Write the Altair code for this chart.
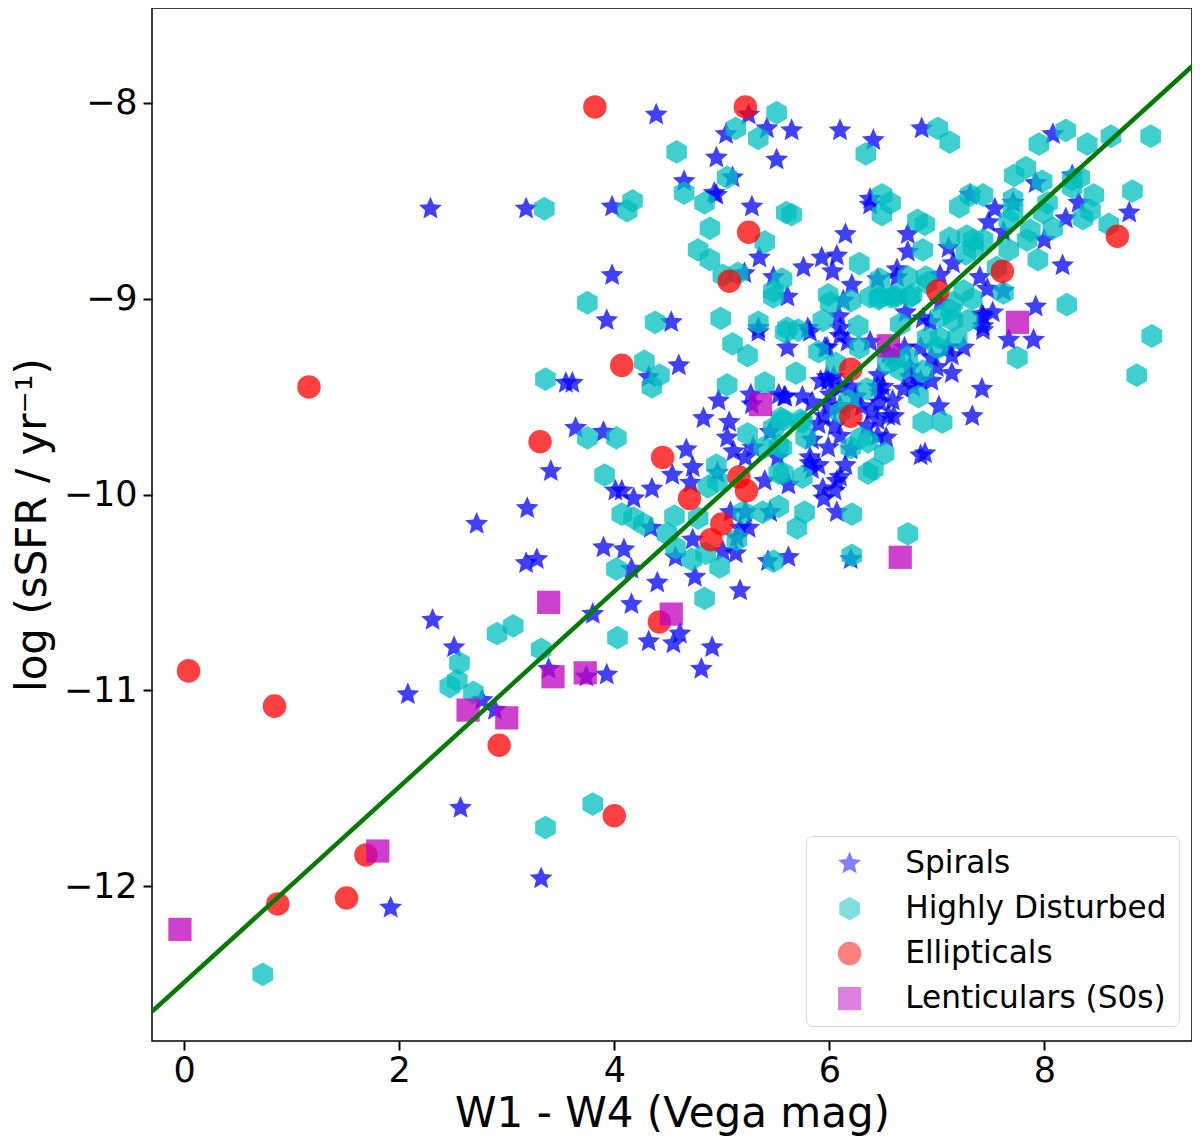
import altair as alt
import pandas as pd

spirals = [
(4.39,-8.06),(5.25,-8.06),(5.04,-8.16),(5.42,-8.13),(5.65,-8.14),(6.10,-8.14),(6.41,-8.19),(4.95,-8.28),(5.51,-8.29),
(4.65,-8.40),(5.10,-8.38),(4.95,-8.47),(4.93,-8.46),(5.28,-8.53),(6.38,-8.49),(6.38,-8.52),(6.15,-8.67),(5.35,-8.79),
(5.21,-8.87),(5.76,-8.84),(5.93,-8.79),(6.07,-8.78),(6.03,-8.86),(5.48,-8.89),(5.61,-8.99),(6.21,-8.93),(6.45,-8.90),
(6.63,-8.85),(6.63,-8.89),(6.13,-9.01),(6.09,-9.09),(4.53,-9.12),(5.34,-9.15),(5.80,-9.15),(6.10,-9.15),(6.86,-8.13),
(8.08,-8.16),(7.92,-8.41),(8.26,-8.37),(7.31,-8.47),(7.71,-8.51),(7.54,-8.54),(7.48,-8.61),(8.32,-8.51),(8.20,-8.59),
(8.79,-8.56),(6.73,-8.67),(6.73,-8.76),(7.11,-8.74),(7.15,-8.82),(7.62,-8.66),(8.00,-8.70),(8.17,-8.83),(7.03,-8.88),
(7.40,-8.89),(7.47,-8.95),(7.62,-8.96),(7.92,-9.04),(7.52,-9.07),(7.43,-9.09),(6.87,-9.10),(6.71,-9.07),(6.94,-9.12),
(7.43,-9.14),(7.03,-9.02),(7.42,-9.08),(7.43,-9.16),(7.67,-9.21),(7.90,-9.21),(5.82,-9.17),(5.61,-9.25),(6.10,-9.19),
(6.17,-9.22),(5.98,-9.25),(6.38,-9.22),(6.85,-9.25),(7.25,-9.25),(7.14,-9.29),(7.14,-9.38),(7.42,-9.46),(7.33,-9.60),
(7.02,-9.55),(6.85,-9.80),(6.89,-9.79),(6.53,-9.71),(6.45,-9.62),(6.40,-9.57),(6.47,-9.53),(6.59,-9.52),(6.69,-9.46),
(6.78,-9.45),(6.46,-9.39),(6.47,-9.48),(5.99,-9.42),(5.92,-9.42),(6.04,-9.40),(5.59,-9.50),(5.84,-9.53),(6.01,-9.49),
(5.90,-9.64),(5.99,-9.76),(5.84,-9.72),(5.82,-9.81),(5.82,-9.84),(6.10,-9.91),(6.20,-9.77),(4.60,-9.34),(4.32,-9.40),
(3.90,-9.68),(4.97,-9.52),(5.27,-9.49),(5.28,-9.54),(5.53,-9.49),(5.58,-9.50),(4.83,-9.61),(5.98,-9.40),(5.96,-9.25),
(5.34,-9.17),(5.07,-9.63),(5.05,-9.71),(5.11,-9.78),(5.22,-9.81),(5.29,-9.76),(5.45,-9.68),(4.67,-9.77),(4.73,-9.86),
(4.54,-9.90),(5.84,-9.87),(5.52,-9.81),(5.40,-9.93),(5.62,-9.95),(5.94,-9.97),(6.07,-9.93),(6.07,-10.09),(4.35,-9.97),
(4.01,-9.98),(4.07,-9.98),(4.18,-10.02),(4.71,-9.94),(4.96,-9.89),(4.34,-10.17),(4.73,-10.23),(5.08,-10.09),(5.22,-10.09),
(5.25,-10.17),(5.17,-10.17),(5.45,-10.09),(5.62,-10.32),(5.43,-10.34),(3.90,-10.27),(4.09,-10.28),(4.16,-10.38),(4.40,-10.45),
(4.75,-10.42),(5.17,-10.49),(4.16,-10.56),(4.57,-10.32),(5.01,-10.29),(5.13,-10.30),(5.14,-10.22),(3.19,-10.07),(2.72,-10.15),
(3.18,-10.35),(3.28,-10.33),(3.80,-10.61),(2.31,-10.64),(2.51,-10.78),(4.32,-10.75),(4.55,-10.76),(4.61,-10.71),(4.91,-10.78),
(4.81,-10.89),(3.39,-10.89),(3.74,-10.93),(3.93,-10.92),(2.08,-11.02),(2.77,-11.05),(2.89,-11.10),(2.29,-8.54),(3.18,-8.54),
(3.98,-8.53),(3.98,-8.88),(3.93,-9.11),(3.55,-9.43),(3.61,-9.43),(3.64,-9.66),(3.41,-9.88),(2.57,-11.60),(3.32,-11.96),
(1.92,-12.11),(6.20,-10.33),
(6.20,-9.45),(6.25,-9.50),(6.30,-9.55),(6.50,-9.45),(6.55,-9.60),(6.60,-9.60),(6.35,-9.65),(6.45,-9.70),(6.60,-9.30),
(6.55,-9.28),(6.70,-9.25),(6.75,-9.35),(6.75,-9.40),(6.85,-9.42),(6.95,-9.30),(6.10,-9.45),(6.10,-9.55),(6.00,-9.55),
(5.95,-9.60),(6.05,-9.65),(6.10,-9.70),(5.75,-9.50),(5.90,-9.85),(5.95,-10.02),(6.05,-9.98),(6.15,-9.85),(6.45,-9.45),
(7.00,-9.35),(7.10,-9.25),(6.95,-9.42),
]

disturbed = [
(5.51,-8.05),(5.13,-8.13),(5.34,-8.18),(4.58,-8.25),(6.34,-8.26),(5.05,-8.38),(4.65,-8.46),(4.84,-8.51),(5.60,-8.56),
(5.65,-8.57),(4.89,-8.64),(5.40,-8.71),(4.78,-8.75),(4.89,-8.80),(5.01,-8.88),(5.15,-8.87),(5.48,-8.96),(5.56,-8.90),
(5.48,-8.99),(6.28,-8.82),(5.99,-8.98),(6.01,-9.02),(6.20,-9.01),(6.46,-9.00),(6.57,-8.99),(6.47,-8.90),(6.49,-8.47),
(6.57,-8.51),(6.49,-8.57),(4.38,-9.12),(4.99,-9.10),(5.34,-9.12),(5.94,-9.11),(6.27,-9.14),(5.61,-9.15),(5.71,-9.16),
(5.59,-9.17),(7.01,-8.13),(7.12,-8.20),(8.20,-8.14),(7.95,-8.21),(8.40,-8.21),(8.62,-8.17),(8.99,-8.17),(7.83,-8.33),
(7.72,-8.37),(7.98,-8.40),(8.82,-8.45),(7.31,-8.47),(7.43,-8.47),(7.21,-8.53),(7.71,-8.49),(7.71,-8.55),(8.26,-8.39),
(8.33,-8.38),(8.26,-8.43),(8.46,-8.47),(8.43,-8.55),(8.36,-8.59),(8.60,-8.62),(8.03,-8.51),(7.99,-8.56),(7.67,-8.60),
(8.08,-8.64),(7.87,-8.65),(7.84,-8.70),(6.82,-8.60),(6.89,-8.62),(7.12,-8.69),(6.87,-8.75),(7.28,-8.68),(7.34,-8.70),
(7.43,-8.70),(7.27,-8.77),(7.34,-8.74),(7.67,-8.75),(7.94,-8.80),(7.56,-8.84),(8.21,-9.03),(6.73,-8.89),(6.90,-8.89),
(7.25,-8.96),(7.33,-9.00),(7.62,-8.97),(6.63,-8.98),(6.75,-8.99),(7.29,-9.11),(7.13,-9.06),(7.15,-9.11),(6.66,-9.13),
(5.90,-9.27),(5.69,-9.38),(6.06,-9.33),(6.28,-9.25),(6.35,-9.46),(6.18,-9.52),(6.61,-9.31),(6.73,-9.30),(6.54,-9.33),
(6.66,-9.36),(6.87,-9.37),(6.83,-9.50),(6.87,-9.63),(7.05,-9.63),(7.75,-9.30),(7.03,-9.09),(6.91,-9.20),(7.03,-9.20),
(7.19,-9.20),(7.01,-9.25),(7.15,-9.02),(5.78,-9.71),(5.73,-9.62),(5.57,-9.62),(5.56,-9.76),(6.20,-9.76),(6.29,-9.71),
(6.36,-9.73),(6.10,-9.58),(6.51,-9.79),(6.41,-9.87),(6.36,-9.89),(5.57,-9.89),(5.75,-9.91),(6.38,-8.99),(6.47,-8.99),
(6.61,-8.99),(6.77,-8.98),(6.91,-8.92),(4.28,-9.32),(4.42,-9.39),(4.35,-9.45),(5.10,-9.23),(5.24,-9.29),(5.05,-9.44),
(5.40,-9.43),(3.75,-9.71),(4.02,-9.71),(3.91,-9.90),(5.55,-9.61),(5.48,-9.66),(5.75,-9.63),(5.24,-9.69),(5.53,-9.75),
(5.39,-9.76),(5.53,-9.89),(4.95,-9.85),(4.87,-9.96),(4.96,-9.93),(5.53,-10.06),(5.77,-10.09),(5.70,-10.17),(4.07,-10.10),
(4.18,-10.12),(4.27,-10.15),(4.56,-10.11),(4.78,-10.12),(4.49,-10.20),(4.57,-10.27),(4.72,-10.33),(4.85,-10.30),(5.14,-10.23),
(5.20,-10.09),(5.38,-10.09),(4.98,-10.37),(5.48,-10.34),(4.02,-10.38),(4.84,-10.53),(3.06,-10.67),(2.91,-10.71),(3.32,-10.79),
(4.03,-10.73),(2.56,-10.86),(2.54,-10.95),(2.47,-10.98),(2.69,-11.01),(3.35,-8.54),(4.17,-8.50),(4.12,-8.55),(3.75,-9.02),
(3.36,-9.41),(0.73,-12.45),(3.36,-11.70),(3.80,-11.58),(9.00,-9.19),(8.86,-9.39),(6.73,-10.20),(6.21,-10.31),(6.21,-10.10),
]

ellipticals = [
(3.82,-8.02),(5.22,-8.02),(5.25,-8.66),(5.07,-8.91),(7.01,-8.96),(7.61,-8.86),(8.68,-8.68),(4.07,-9.34),(6.20,-9.36),
(6.20,-9.60),(1.16,-9.45),(3.31,-9.73),(4.45,-9.81),(4.70,-10.02),(5.16,-9.91),(5.23,-9.98),(5.00,-10.15),(4.90,-10.23),
(4.42,-10.65),(0.04,-10.90),(0.84,-11.08),(2.93,-11.28),(4.00,-11.64),(1.69,-11.84),(0.87,-12.09),(1.51,-12.06),
]

lenticulars = [
(-0.04,-12.22),(1.80,-11.82),(2.64,-11.10),(3.00,-11.14),(3.39,-10.55),(3.43,-10.93),(3.73,-10.91),(4.53,-10.61),
(5.36,-9.54),(6.55,-9.24),(7.75,-9.12),(6.66,-10.32),
]

fit_x = [-0.30, 9.40]
fit_y = [-12.64, -7.80]

x_ticks = [0, 2, 4, 6, 8]
y_ticks = [-8, -9, -10, -11, -12]
names = ["Spirals", "Highly Disturbed", "Ellipticals", "Lenticulars (S0s)"]
colors = ["#0000ff", "#00bfbf", "#ff0000", "#bf00bf"]
star = "M0,-1L0.27,-0.372L0.951,-0.309L0.437,0.142L0.588,0.809L0,0.46L-0.588,0.809L-0.437,0.142L-0.951,-0.309L-0.27,-0.372Z"
hexagon = "M0,-1L0.866,-0.5L0.866,0.5L0,1L-0.866,0.5L-0.866,-0.5Z"
shapes = [star, hexagon, "circle", "square"]
sizes = [580, 540, 390, 520]

rows = []
for name, pts in zip(names, [spirals, disturbed, ellipticals, lenticulars]):
    for px, py in pts:
        rows.append({"x": px, "y": py, "type": name})
df = pd.DataFrame(rows)
fit = pd.DataFrame({"x": fit_x, "y": fit_y})

x_scale = alt.Scale(domain=[-0.30, 9.374], nice=False, zero=False)
y_scale = alt.Scale(domain=[-12.79, -7.515], nice=False, zero=False)

legend = alt.Legend(
    title=None, orient="none", legendX=654, legendY=828,
    fillColor="white", strokeColor="#d9d9d9", cornerRadius=6, padding=12,
    labelFont="DejaVu Sans", labelFontSize=31.2, labelColor="black", labelOffset=40,
    symbolOpacity=0.5, symbolStrokeWidth=0, rowPadding=13, labelLimit=400,
    symbolOffset=16,
)

pts = alt.Chart(df).mark_point(filled=True, opacity=0.75, strokeWidth=0).encode(
    x=alt.X("x:Q", scale=x_scale, title="W1 - W4 (Vega mag)",
            axis=alt.Axis(values=x_ticks, format="d", labelFlush=False, labelPadding=3, titlePadding=5)),
    y=alt.Y("y:Q", scale=y_scale, title="log (sSFR / yr⁻¹)",
            axis=alt.Axis(values=y_ticks, format="d", labelPadding=6, titlePadding=9)),
    color=alt.Color("type:N", scale=alt.Scale(domain=names, range=colors), legend=legend),
    shape=alt.Shape("type:N", scale=alt.Scale(domain=names, range=shapes), legend=legend),
    size=alt.Size("type:N", scale=alt.Scale(domain=names, range=sizes), legend=legend),
)

line = alt.Chart(fit).mark_line(color="#007a00", strokeWidth=4.5, clip=True).encode(
    x=alt.X("x:Q", scale=x_scale), y=alt.Y("y:Q", scale=y_scale)
)

chart = (pts + line).properties(
    width=1040, height=1033,
    padding={"left": 144, "top": 0, "right": 0, "bottom": 97},
    autosize=alt.AutoSizeParams(type="none"),
).configure_view(stroke="black", strokeWidth=1.5).configure_axis(
    grid=False, domain=False, labelFont="DejaVu Sans", titleFont="DejaVu Sans",
    labelFontSize=35, titleFontSize=42, titleFontWeight="normal",
    labelColor="black", titleColor="black", tickColor="black", tickSize=9, tickWidth=2,
)

chart.save("out.html", embed_options={"renderer": "svg", "actions": False})
